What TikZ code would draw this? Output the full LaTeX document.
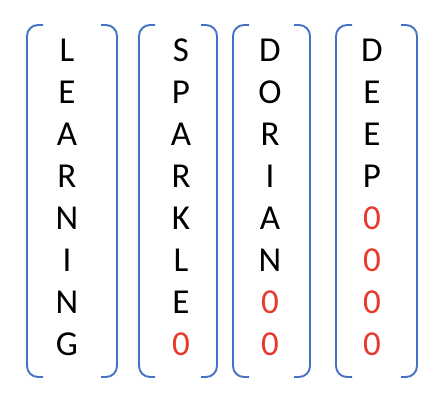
\documentclass[tikz,border=0pt]{standalone}
\usepackage{fontspec}
\setmainfont{Carlito}
\usepackage{xcolor}
\usetikzlibrary{positioning}
\definecolor{bracketblue}{HTML}{4472C4}
\definecolor{padred}{HTML}{E8382A}
\definecolor{inkprimary}{HTML}{000000}

\begin{document}
\begin{tikzpicture}[
  x=1pt, y=-1pt,
  letter/.style={inner sep=0pt, font=\fontsize{35}{42}\selectfont, text=inkprimary},
  pad/.style={letter, text=padred},
  bracket/.style={draw=bracketblue, line width=1.9pt, rounded corners=11pt}
]
\useasboundingbox (0,0) rectangle (436,400);

% ---- brackets round each sequence ----
\foreach \lx/\rx in {27/117, 139/217, 233/310, 336/417} {
  \draw[bracket] (\lx+16,25) -- (\lx,25) -- (\lx,377) -- (\lx+16,377);
  \draw[bracket] (\rx-16,25) -- (\rx,25) -- (\rx,377) -- (\rx-16,377);
}

% ---- LEARNING ----
\foreach \ch [count=\r] in {L,E,A,R,N,I,N,G}
  \node[letter] (a\r) at (67, 8+42*\r) {\ch};

% ---- SPARKLE + one pad ----
\foreach \ch [count=\r] in {S,P,A,R,K,L,E}
  \node[letter] (b\r) at (181, 8+42*\r) {\ch};
\node[pad] (b8) at (181, 344) {0};

% ---- DORIAN + two pads ----
\foreach \ch [count=\r] in {D,O,R,I,A,N}
  \node[letter] (c\r) at (270, 8+42*\r) {\ch};
\foreach \r in {7,8}
  \node[pad] (c\r) at (270, 8+42*\r) {0};

% ---- DEEP + four pads ----
\foreach \ch [count=\r] in {D,E,E,P}
  \node[letter] (d\r) at (372, 8+42*\r) {\ch};
\foreach \r in {5,...,8}
  \node[pad] (d\r) at (372, 8+42*\r) {0};
\end{tikzpicture}
\end{document}
